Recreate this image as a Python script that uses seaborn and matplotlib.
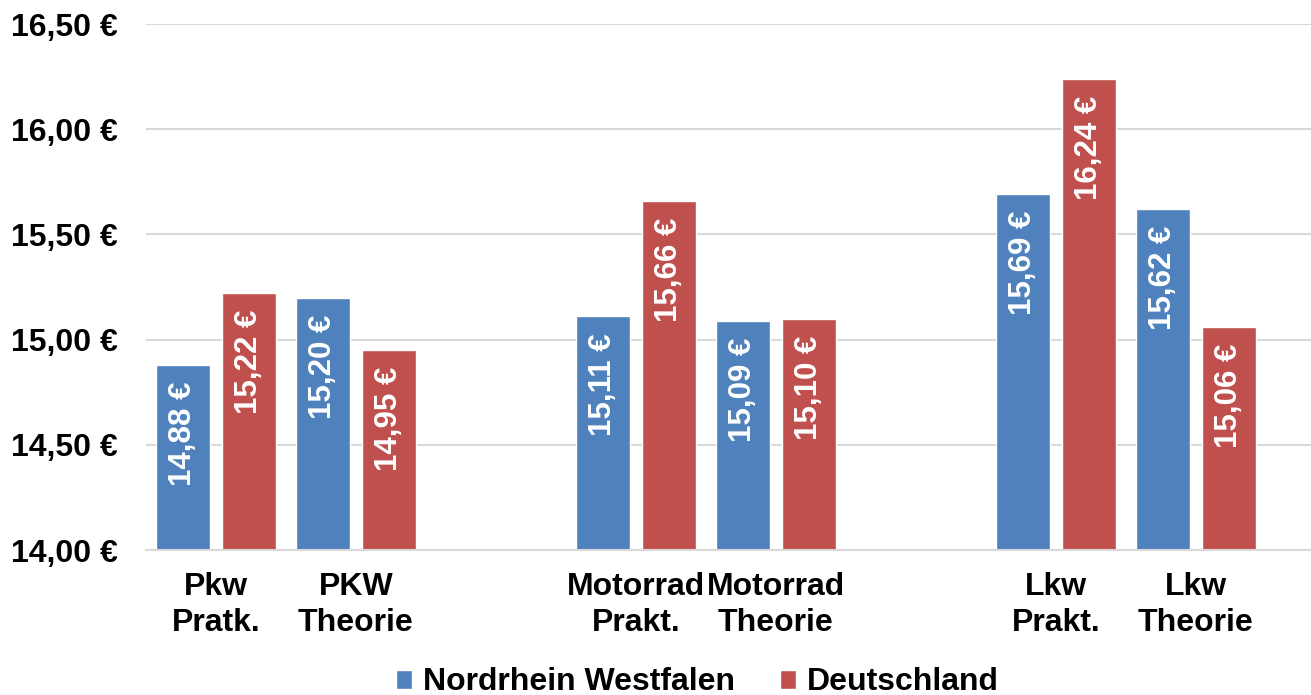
import pandas as pd
import seaborn as sns
import matplotlib.pyplot as plt
from matplotlib.patches import Patch

# data
categories = ["Pkw\nPratk.", "PKW\nTheorie", " ", "Motorrad\nPrakt.", "Motorrad\nTheorie", "  ", "Lkw\nPrakt.", "Lkw\nTheorie"]
nrw = [14.88, 15.20, None, 15.11, 15.09, None, 15.69, 15.62]
deutschland = [15.22, 14.95, None, 15.66, 15.10, None, 16.24, 15.06]
series = ["Nordrhein Westfalen", "Deutschland"]
colors = ["#4F81BD", "#C0504D"]
y_ticks = [14.0, 14.5, 15.0, 15.5, 16.0, 16.5]

rows = []
for c, a, b in zip(categories, nrw, deutschland):
    rows.append({"Kategorie": c, "Region": series[0], "Preis": a})
    rows.append({"Kategorie": c, "Region": series[1], "Preis": b})
df = pd.DataFrame(rows)

sns.set_style("white")
plt.rcParams['font.family'] = ['Liberation Sans', 'DejaVu Sans']
plt.rcParams['font.weight'] = 'bold'
plt.rcParams['text.color'] = 'black'
plt.rcParams['xtick.color'] = 'black'
plt.rcParams['ytick.color'] = 'black'

fig = plt.figure(figsize=(13.11, 6.95), dpi=100)
ax = fig.add_axes([146 / 1311, 145 / 695, 1165 / 1311, 526 / 695])

sns.barplot(data=df.dropna(), x="Kategorie", y="Preis", hue="Region", order=categories,
            hue_order=series, palette=colors, width=0.95, gap=0.19, legend=False, ax=ax,
            saturation=1, errorbar=None)

ax.set_ylim(14, 16.5)
ax.set_xlim(-0.5, -0.5 + 1165 / 140)
ax.set_yticks(y_ticks)
ax.set_yticklabels([f"{v:.2f}".replace('.', ',') + " €" for v in y_ticks], fontsize=23, fontweight='bold')
ax.set_xticks(range(len(categories)))
ax.set_xticklabels(categories, fontsize=23, fontweight='bold', linespacing=1.25)
ax.tick_params(axis='y', length=0, pad=20)
ax.tick_params(axis='x', length=0, pad=16)
ax.set_xlabel("")
ax.set_ylabel("")
ax.grid(axis='y', color='#d9d9d9', linewidth=1.5)
ax.set_axisbelow(True)
for s in ["top", "left", "right"]:
    ax.spines[s].set_visible(False)
ax.spines["bottom"].set_color('#d9d9d9')
ax.spines["bottom"].set_linewidth(1.5)

for p in ax.patches:
    h = p.get_height()
    if h != h or h == 0:
        continue
    ax.annotate(f"{h:.2f}".replace('.', ',') + " €", (p.get_x() + p.get_width() / 2, h),
                xytext=(0, -12), textcoords='offset points', rotation=90,
                ha='center', va='top', color='white', fontsize=22.5, fontweight='bold')

handles = [Patch(facecolor=c, label=s) for s, c in zip(series, colors)]
fig.legend(handles=handles, loc='center', bbox_to_anchor=(0.532, 0.018), ncol=2, frameon=False,
           prop={'size': 23, 'weight': 'bold'}, handlelength=0.5, handleheight=0.55,
           handletextpad=0.35, columnspacing=1.4, borderaxespad=0)

plt.savefig("out.png", dpi=100)
